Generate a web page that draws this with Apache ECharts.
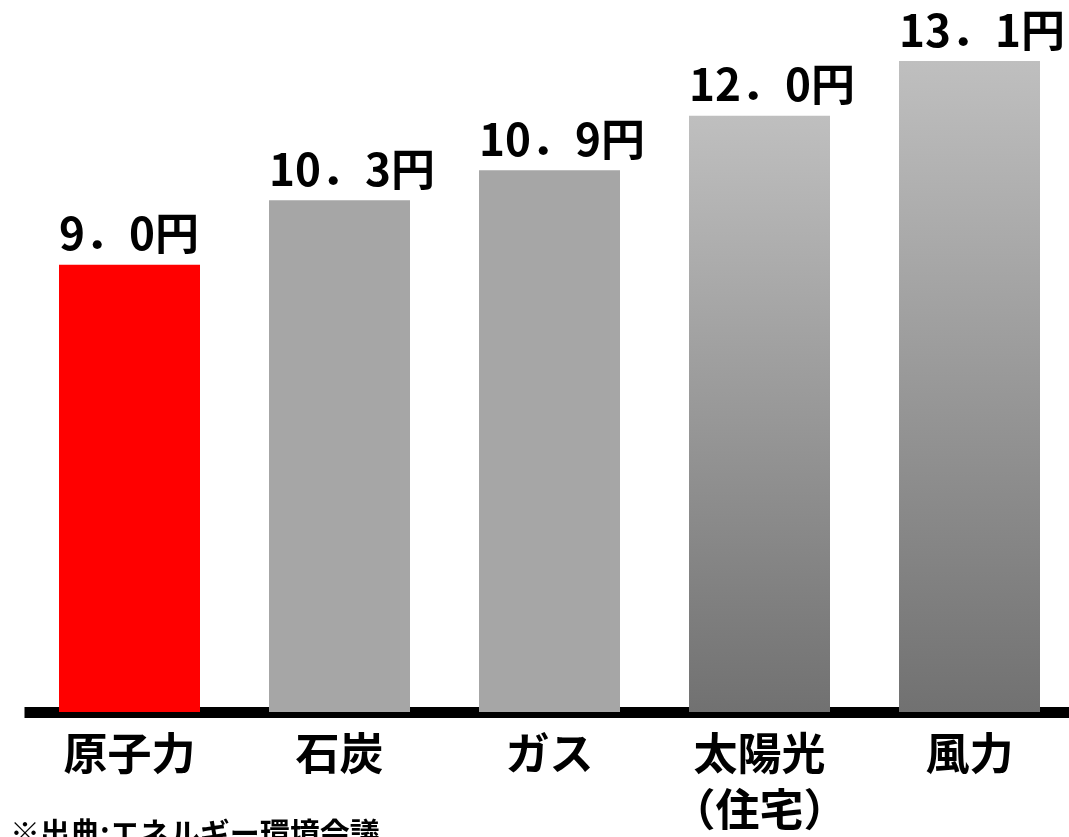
<!DOCTYPE html>
<html>
<head>
<meta charset="utf-8">
<style>
  html, body { margin: 0; padding: 0; background: #ffffff; }
  #chart { width: 1069px; height: 837px; }
</style>
<script src="https://cdn.jsdelivr.net/npm/echarts@6/dist/echarts.min.js"></script>
</head>
<body>
<div id="chart"></div>
<script>
// 電源別の発電コスト（円/kWh）
const sources = ['原子力', '石炭', 'ガス', '太陽光\n（住宅）', '風力'];
const costs = [9.0, 10.3, 10.9, 12.0, 13.1];
const sourceNote = '※出典:エネルギー環境会議';

const FONT = '"Noto Sans CJK JP", "Noto Sans", sans-serif';

// 原子力は赤、火力は単色グレー、再生可能エネルギーはグラデーション
function barColor(i) {
  if (i === 0) return '#ff0000';
  if (i <= 2) return '#a6a6a6';
  return new echarts.graphic.LinearGradient(0, 0, 0, 1, [
    { offset: 0, color: '#bfbfbf' },
    { offset: 1, color: '#717171' }
  ]);
}

// 全角ピリオドで表記（例: 9．0円）
function yenLabel(v) {
  return v.toFixed(1).replace('.', '．') + '円';
}

const chart = echarts.init(document.getElementById('chart'));
chart.setOption({
  animation: false,
  backgroundColor: '#ffffff',
  grid: {
    left: 24.5, right: -5.5, top: 61, bottom: 125,
    containLabel: false,
    outerBoundsMode: 'none'
  },
  xAxis: {
    type: 'category',
    data: sources,
    offset: 6,
    axisTick: { show: false },
    axisLine: { lineStyle: { color: '#000000', width: 11, cap: 'butt' } },
    axisLabel: {
      color: '#000000',
      fontFamily: FONT,
      fontWeight: 'bold',
      fontSize: 44,
      lineHeight: 56,
      margin: 7,
      interval: 0
    }
  },
  yAxis: {
    type: 'value',
    min: 0,
    max: 13.1,
    show: false,
    splitLine: { show: false }
  },
  series: [{
    type: 'bar',
    barWidth: 141,
    data: costs.map((v, i) => ({ value: v, itemStyle: { color: barColor(i) } })),
    label: {
      show: true,
      position: [0, -9],
      align: 'left',
      verticalAlign: 'bottom',
      color: '#000000',
      fontFamily: FONT,
      fontWeight: 'bold',
      fontSize: 44,
      formatter: p => yenLabel(p.value)
    }
  }],
  graphic: [{
    type: 'text',
    left: 10,
    top: 818,
    style: {
      text: sourceNote,
      fill: '#000000',
      font: 'bold 30px ' + FONT
    }
  }]
});
</script>
</body>
</html>
